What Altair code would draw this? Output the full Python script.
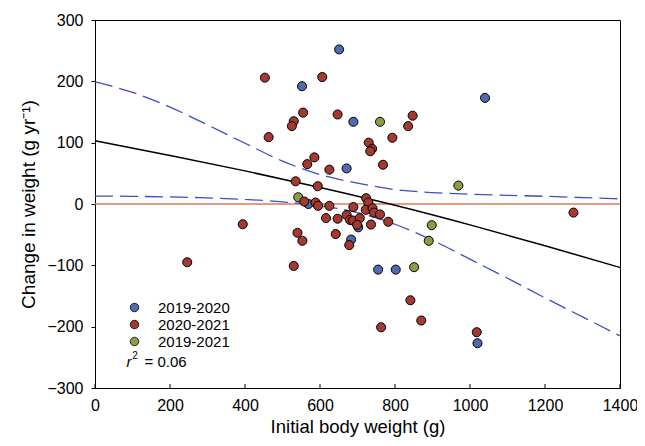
import altair as alt
import pandas as pd

# ---- data ----
blue_x = [651, 552, 1040, 689, 671, 569, 702, 683, 755, 802, 1020]
blue_y = [252, 192, 173, 134, 58, 0, -38, -58, -107, -107, -227]

green_x = [760, 969, 542, 898, 890, 851]
green_y = [134, 30, 11, -34.5, -60, -103]

red_x = [453, 606, 555, 647, 847, 835, 530, 525, 463, 793, 730, 739, 734, 585, 566, 625, 768, 535, 594, 723, 729,
         558, 588, 595, 625, 689, 722, 740, 744, 760, 616, 647, 671, 680, 688, 706, 699, 736, 782, 540, 553, 642, 678,
         394, 246, 530, 1276, 841, 870, 763, 1018]
red_y = [206, 207, 149, 146, 144, 127, 135, 127, 109, 108, 100, 90, 86, 76, 65, 56, 64, 37, 29, 9.5, 2.4,
         4, 2.4, -3, -3, -5, -9.5, -7, -14, -17, -23, -24, -18, -26, -27, -23, -34, -33.5, -29, -47, -60, -49, -67,
         -33, -95, -101, -14, -157, -190, -201, -209]

periods = ["2019-2020", "2020-2021", "2019-2021"]
colors = ["#4D6BAE", "#A3392F", "#8C9D47"]

band_x = [0, 100, 200, 300, 400, 500, 600, 700, 800, 900, 1000, 1100, 1200, 1300, 1400]
upper_y = [199, 182, 158, 129, 99, 70, 48, 34, 23.5, 18.5, 16, 14.2, 12.5, 10.5, 8.4]
lower_y = [13, 12.5, 11.5, 10, 7.5, 3.5, -3, -14, -33, -59, -90, -121, -153, -184, -215]

fit_x = [0, 200, 400, 600, 800, 1000, 1200, 1400]
fit_y = [103, 79, 54, 27, -2, -34, -68, -103.5]

x_ticks = [0, 200, 400, 600, 800, 1000, 1200, 1400]
y_ticks = [-300, -200, -100, 0, 100, 200, 300]

FONT = "Liberation Sans"

# ---- tables ----
points = pd.DataFrame({
    "x": blue_x + red_x + green_x,
    "y": blue_y + red_y + green_y,
    "period": [periods[0]] * len(blue_x) + [periods[1]] * len(red_x) + [periods[2]] * len(green_x),
})
bands = pd.DataFrame({
    "x": band_x + band_x,
    "y": upper_y + lower_y,
    "band": ["upper"] * len(band_x) + ["lower"] * len(band_x),
})
fit = pd.DataFrame({"x": fit_x, "y": fit_y})
ticks_df = pd.DataFrame({"x": x_ticks})
zero_df = pd.DataFrame({"y": [0]})

xs = alt.Scale(domain=[0, 1400], nice=False, zero=False)
ys = alt.Scale(domain=[-300, 300], nice=False)

x_axis = alt.Axis(values=x_ticks, format="d", title="Initial body weight (g)", ticks=False, tickSize=0,
                  labelPadding=9, labelFontSize=16, titleFontSize=18.5, titlePadding=4,
                  grid=False, labelFlush=False)
y_axis = alt.Axis(values=y_ticks, format="d", labelExpr="replace(datum.label, '-', '\u2212')",
                  title="Change in weight (g yr\u207b\u00b9)", tickSize=4,
                  labelPadding=8, labelFontSize=16, titleFontSize=19, titlePadding=8, grid=False)

zero = alt.Chart(zero_df).mark_rule(color="#E07A5A", strokeWidth=1.6).encode(
    y=alt.Y("y:Q", scale=ys, axis=y_axis)
)

band_lines = alt.Chart(bands).mark_line(color="#3D4FC2", strokeWidth=1.3, strokeDash=[18, 7],
                                        interpolate="monotone").encode(
    x=alt.X("x:Q", scale=xs, axis=x_axis),
    y=alt.Y("y:Q", scale=ys),
    detail="band:N",
)

fit_line = alt.Chart(fit).mark_line(color="black", strokeWidth=1.5, interpolate="monotone").encode(
    x=alt.X("x:Q", scale=xs),
    y=alt.Y("y:Q", scale=ys),
)

pts = alt.Chart(points).mark_circle(size=82, opacity=1, stroke="black", strokeWidth=1).encode(
    x=alt.X("x:Q", scale=xs),
    y=alt.Y("y:Q", scale=ys),
    color=alt.Color("period:N", sort=periods,
                    scale=alt.Scale(domain=periods, range=colors),
                    legend=alt.Legend(orient="none", legendX=32, legendY=280, title=None,
                                      labelFontSize=15, labelFont=FONT, symbolSize=72,
                                      symbolType="circle", symbolStrokeColor="black",
                                      symbolStrokeWidth=0.8, labelOffset=16, rowPadding=1,
                                      padding=0)),
    order=alt.Order("period:N"),
)

xticks_layer = alt.Chart(ticks_df).mark_rule(color="black", strokeWidth=1).encode(
    x=alt.X("x:Q", scale=xs),
    y=alt.datum(-300),
    y2=alt.datum(-293.5),
)

ann_r = alt.Chart(pd.DataFrame({"x": [84], "y": [-265], "t": ["r"]})).mark_text(
    font=FONT, fontSize=15, fontStyle="italic", align="left", baseline="alphabetic", color="black"
).encode(x=alt.X("x:Q", scale=xs), y=alt.Y("y:Q", scale=ys), text="t:N")
ann_2 = alt.Chart(pd.DataFrame({"x": [99], "y": [-253], "t": ["2"]})).mark_text(
    font=FONT, fontSize=10, align="left", baseline="alphabetic", color="black"
).encode(x=alt.X("x:Q", scale=xs), y=alt.Y("y:Q", scale=ys), text="t:N")
ann_v = alt.Chart(pd.DataFrame({"x": [132], "y": [-265], "t": ["= 0.06"]})).mark_text(
    font=FONT, fontSize=15, align="left", baseline="alphabetic", color="black"
).encode(x=alt.X("x:Q", scale=xs), y=alt.Y("y:Q", scale=ys), text="t:N")

chart = alt.layer(zero, band_lines, fit_line, pts, xticks_layer, ann_r, ann_2, ann_v).properties(
    width=525, height=368,
    autosize=alt.AutoSizeParams(type="none"),
    padding={"left": 87, "top": 12, "right": 17, "bottom": 50},
).configure_view(
    stroke="black", strokeWidth=1
).configure_axis(
    labelFont=FONT, titleFont=FONT, labelColor="black", titleColor="black",
    domainColor="black", tickColor="black", titleFontWeight="normal", domainWidth=1,
).configure_legend(
    labelColor="black"
)

chart.save("out.html", embed_options={"renderer": "svg", "actions": False})
